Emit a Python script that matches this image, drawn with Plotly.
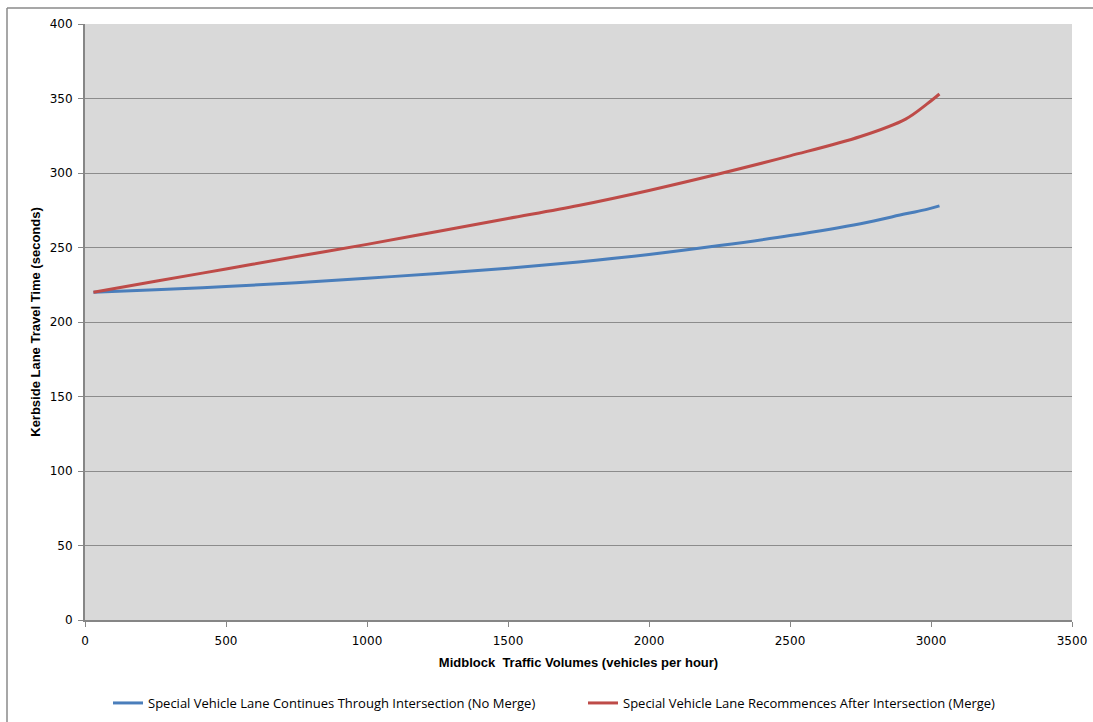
import plotly.graph_objects as go

# Midblock traffic volume (vehicles per hour)
volumes = [30, 250, 500, 750, 1000, 1250, 1500, 1750, 2000, 2250, 2500, 2750, 2910, 2985, 3030]

# Kerbside lane travel time (seconds)
no_merge = [220, 221.7, 223.8, 226.3, 229.4, 232.5, 236, 240.3, 245.3, 251.3, 258, 266, 272.6, 275.6, 277.9]
merge = [220, 227.3, 235.6, 243.9, 252.1, 260.8, 269.5, 278.2, 288.3, 299.5, 311.5, 324.5, 336.2, 346.2, 353]

series_names = [
    "Special Vehicle Lane Continues Through Intersection (No Merge)",
    "Special Vehicle Lane Recommences After Intersection (Merge)",
]
series_colors = ["#4a7ebb", "#be4b48"]

x_ticks = [0, 500, 1000, 1500, 2000, 2500, 3000, 3500]
y_ticks = [0, 50, 100, 150, 200, 250, 300, 350, 400]

W, H = 1093, 722
L, R, T, B = 85, 21, 24, 102
pw, ph = W - L - R, H - T - B

fig = go.Figure()
for name, ys, col in zip(series_names, [no_merge, merge], series_colors):
    fig.add_trace(go.Scatter(
        x=volumes, y=ys, name=name, mode="lines",
        line=dict(color=col, width=3, shape="spline", smoothing=1.0),
    ))

tick_font = dict(family="DejaVu Sans, Verdana, sans-serif", size=12, color="#000000")
title_font = dict(family="Liberation Sans, Arial, sans-serif", size=13, color="#000000")

# chart frame: left and top edges (the others fall outside the page)
fx0 = (7 - L) / pw
fy1 = 1 + (T - 8) / ph
frame_line = dict(color="#8a8a8a", width=1.5)

fig.update_layout(
    width=W, height=H,
    margin=dict(l=L, r=R, t=T, b=B, autoexpand=False),
    paper_bgcolor="#ffffff",
    plot_bgcolor="#d9d9d9",
    showlegend=True,
    legend=dict(
        orientation="h", x=(108 - L) / pw, xanchor="left", y=-(703 - T - ph) / ph, yanchor="middle",
        font=dict(family="Open Sans, sans-serif", size=13, color="#000000"),
        bgcolor="rgba(0,0,0,0)", itemwidth=30, tracegroupgap=0,
        entrywidth=430, entrywidthmode="pixels",
    ),
    xaxis=dict(
        range=[0, 3500], tickvals=x_ticks, ticktext=[str(v) for v in x_ticks],
        showgrid=False, zeroline=False, automargin=False,
        showline=True, linecolor="#868686", linewidth=2,
        ticks="outside", ticklen=5, tickcolor="#868686", tickwidth=1,
        tickfont=tick_font, ticklabelstandoff=4,
        title=dict(text="<b>Midblock  Traffic Volumes (vehicles per hour)</b>", font=title_font, standoff=10),
    ),
    yaxis=dict(
        range=[0, 400], tickvals=y_ticks, ticktext=[str(v) for v in y_ticks],
        showgrid=True, gridcolor="#8c8c8c", gridwidth=1, zeroline=False, automargin=False,
        showline=True, linecolor="#868686", linewidth=2,
        ticks="outside", ticklen=5, tickcolor="#868686", tickwidth=1,
        tickfont=tick_font, ticklabelstandoff=3,
        title=dict(text="<b>Kerbside Lane Travel Time (seconds)</b>", font=title_font, standoff=6),
    ),
    shapes=[
        dict(type="line", xref="paper", yref="paper",
             x0=fx0, x1=fx0, y0=-(B + 5) / ph, y1=fy1, line=frame_line, layer="below"),
        dict(type="line", xref="paper", yref="paper",
             x0=fx0, x1=(W + 5 - L) / pw, y0=fy1, y1=fy1, line=frame_line, layer="below"),
    ],
)

fig.write_html("out.html")
